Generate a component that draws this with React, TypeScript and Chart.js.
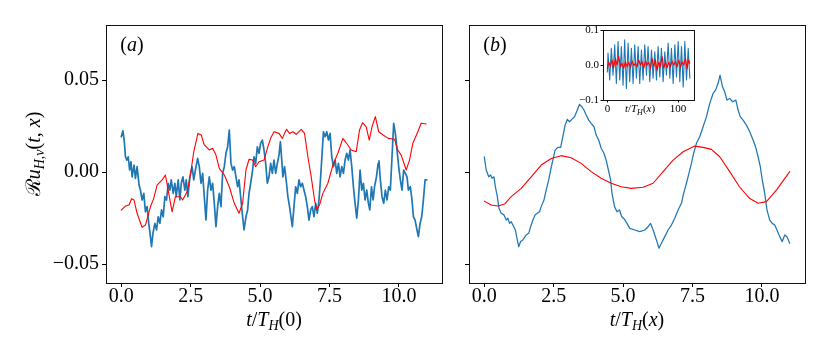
import React, { useEffect, useRef } from 'react';
import { Chart, registerables } from 'chart.js';
Chart.register(...registerables);

const FAMILY = "'Liberation Serif', 'Times New Roman', serif";
const BLUE = '#1f77b4';
const RED = '#ff0000';

// ---------- data (t, value) ----------
const redA: [number, number][] = [
  [0, -0.0207], [0.15, -0.0185], [0.28, -0.0179], [0.37, -0.0145], [0.46, -0.0152], [0.57, -0.0224], [0.75, -0.0301], [0.87, -0.0288],
  [1.05, -0.0189], [1.17, -0.0143], [1.29, -0.0071], [1.47, -0.0043], [1.59, -0.0016], [1.71, -0.0116], [1.83, -0.0216], [1.95, -0.0134],
  [2.13, -0.0134], [2.21, -0.0152], [2.37, -0.0107], [2.49, -0.0016], [2.61, 0.011], [2.76, 0.021], [2.88, 0.0201], [2.99, 0.0147],
  [3.17, 0.012], [3.29, 0.0129], [3.41, 0.0092], [3.53, 0.002], [3.71, -0.0016], [3.89, -0.008], [4.07, -0.017], [4.24, -0.0224],
  [4.37, -0.017], [4.49, 0.0011], [4.6, 0.0069], [4.73, 0.0065], [4.84, 0.0029], [4.96, 0.0056], [5.14, 0.0065], [5.26, 0.0129],
  [5.38, 0.0183], [5.5, 0.0219], [5.68, 0.021], [5.8, 0.0183], [5.95, 0.0232], [6.06, 0.021], [6.18, 0.0219], [6.3, 0.0205],
  [6.48, 0.0232], [6.6, 0.021], [6.72, 0.0083], [6.84, -0.0026], [6.96, -0.0152], [7.04, -0.0203], [7.14, -0.0179], [7.26, -0.0116],
  [7.44, -0.0061], [7.62, 0.0038], [7.8, 0.0102], [7.98, 0.0183], [8.16, 0.0147], [8.28, 0.012], [8.46, 0.011], [8.58, 0.0228],
  [8.69, 0.0268], [8.82, 0.0246], [8.93, 0.0174], [9.03, 0.0246], [9.15, 0.0301], [9.27, 0.0219], [9.43, 0.0201], [9.61, 0.0183],
  [9.84, 0.0178], [9.96, 0.012], [10.08, 0.0092], [10.2, 0.0038], [10.26, 0.0011], [10.38, 0.0065], [10.5, 0.0156], [10.68, 0.0219],
  [10.8, 0.0265], [10.98, 0.0261],
];

const blueA: [number, number][] = [
  [0, 0.0192], [0.06, 0.0224], [0.11, 0.0165], [0.15, 0.0083], [0.2, 0.0065], [0.25, 0.0083], [0.3, 0.0011], [0.35, 0.0056],
  [0.39, -0.0026], [0.46, 0.0038], [0.51, -0.0034], [0.57, 0.0029], [0.64, -0.0071], [0.69, -0.0098], [0.75, -0.0152], [0.81, -0.0116],
  [0.87, -0.0216], [0.93, -0.0188], [0.99, -0.0279], [1.05, -0.0351], [1.09, -0.0406], [1.14, -0.0333], [1.21, -0.0279], [1.27, -0.0315],
  [1.33, -0.0243], [1.39, -0.0279], [1.45, -0.0206], [1.51, -0.0243], [1.57, -0.0134], [1.63, -0.0152], [1.69, -0.0061], [1.75, -0.0098],
  [1.8, -0.0043], [1.87, -0.0116], [1.93, -0.0061], [1.98, -0.0134], [2.05, -0.0043], [2.11, -0.0152], [2.16, -0.0061], [2.22, -0.0026],
  [2.29, -0.0098], [2.34, -0.0043], [2.4, -0.0134], [2.47, -0.0026], [2.55, 0.0029], [2.61, -0.0043], [2.67, 0.0011], [2.75, 0.0074],
  [2.81, 0.0029], [2.87, -0.0061], [2.93, -0.0007], [2.99, -0.0134], [3.05, -0.0261], [3.11, -0.0098], [3.17, -0.0026], [3.23, -0.0098],
  [3.29, -0.0061], [3.35, -0.017], [3.41, -0.0297], [3.47, -0.0188], [3.53, -0.0116], [3.59, -0.0188], [3.65, -0.0007], [3.71, 0.0029],
  [3.77, 0.0102], [3.83, 0.0137], [3.89, 0.0228], [3.95, 0.0047], [4.01, 0.0011], [4.07, 0.0029], [4.13, -0.0026], [4.19, -0.008],
  [4.24, -0.0043], [4.31, -0.0152], [4.37, -0.0243], [4.42, -0.0315], [4.49, -0.0243], [4.55, -0.0206], [4.6, -0.0116], [4.66, -0.0061],
  [4.73, 0.0011], [4.78, 0.0083], [4.84, 0.0047], [4.9, 0.0137], [4.96, 0.0102], [5.02, 0.0156], [5.08, 0.0174], [5.14, 0.012],
  [5.2, 0.0047], [5.26, -0.0061], [5.32, -0.0026], [5.38, 0.0047], [5.44, -0.0007], [5.5, 0.0065], [5.56, -0.0007], [5.62, 0.0047],
  [5.68, 0.0092], [5.73, 0.0165], [5.77, 0.0083], [5.82, -0.0026], [5.88, 0.0029], [5.95, -0.0061], [6.0, -0.0134], [6.06, -0.0188],
  [6.16, -0.0297], [6.21, -0.0206], [6.28, -0.008], [6.34, -0.0116], [6.4, -0.0043], [6.46, -0.008], [6.52, -0.0061], [6.58, -0.0098],
  [6.64, -0.0134], [6.7, -0.0188], [6.76, -0.0261], [6.82, -0.0206], [6.88, -0.0188], [6.94, -0.0243], [7.0, -0.017], [7.06, -0.0224],
  [7.12, -0.0152], [7.18, -0.0026], [7.24, 0.012], [7.28, 0.0219], [7.34, 0.0192], [7.4, 0.0219], [7.46, 0.0174], [7.52, 0.021],
  [7.58, 0.0083], [7.64, 0.0029], [7.7, 0.0065], [7.76, -0.0007], [7.82, 0.0047], [7.88, -0.0026], [7.94, 0.0029], [8.0, -0.0007],
  [8.06, 0.0065], [8.12, 0.0102], [8.18, 0.0065], [8.24, 0.012], [8.3, 0.0029], [8.36, -0.008], [8.42, -0.017], [8.48, -0.0251],
  [8.54, -0.0152], [8.6, 0.0011], [8.66, -0.0098], [8.72, -0.0061], [8.78, -0.0152], [8.84, -0.0098], [8.9, -0.017], [8.95, -0.0206],
  [9.01, -0.008], [9.07, -0.0152], [9.12, -0.008], [9.19, -0.0026], [9.25, 0.0047], [9.28, 0.0061], [9.33, -0.0043], [9.39, -0.0134],
  [9.45, -0.017], [9.51, -0.0098], [9.57, -0.0152], [9.63, -0.008], [9.69, -0.0098], [9.75, 0.0083], [9.81, 0.0265], [9.87, 0.021],
  [9.93, 0.012], [9.99, 0.0029], [10.05, -0.0043], [10.11, -0.0098], [10.17, 0.0011], [10.23, -0.0007], [10.29, -0.0026], [10.34, -0.0098],
  [10.41, -0.008], [10.47, -0.0152], [10.52, -0.0243], [10.58, -0.0261], [10.65, -0.0315], [10.7, -0.0351], [10.76, -0.0279], [10.82, -0.0243],
  [10.88, -0.0152], [10.94, -0.0043], [11.0, -0.0043],
];

const redB: [number, number][] = [
  [0, -0.0158], [0.25, -0.0179], [0.49, -0.0185], [0.73, -0.0174], [0.97, -0.0134], [1.33, -0.0089], [1.69, -0.0026], [2.05, 0.0038],
  [2.41, 0.0074], [2.77, 0.0089], [3.13, 0.0078], [3.49, 0.0047], [3.85, 0.0002], [4.21, -0.0034], [4.57, -0.0061], [4.93, -0.008],
  [5.29, -0.0089], [5.72, -0.0083], [6.08, -0.0061], [6.44, 0.0002], [6.8, 0.0065], [7.16, 0.011], [7.58, 0.0141], [7.88, 0.0134],
  [8.18, 0.0123], [8.48, 0.0083], [8.84, 0.0002], [9.19, -0.008], [9.55, -0.0143], [9.86, -0.017], [10.16, -0.0161], [10.52, -0.0098],
  [11.0, 0.0002],
];

const blueB: [number, number][] = [
  [0, 0.0083], [0.07, 0.0011], [0.16, -0.0026], [0.23, -0.0016], [0.28, -0.0034], [0.35, -0.0026], [0.4, -0.008], [0.47, -0.0134],
  [0.53, -0.0197], [0.61, -0.0224], [0.71, -0.0233], [0.79, -0.0261], [0.85, -0.0251], [0.91, -0.0279], [0.97, -0.027], [1.03, -0.0288],
  [1.12, -0.0315], [1.19, -0.0369], [1.24, -0.0406], [1.31, -0.0378], [1.39, -0.0369], [1.51, -0.0342], [1.6, -0.0333], [1.67, -0.0297],
  [1.75, -0.0261], [1.83, -0.0233], [1.91, -0.0224], [1.99, -0.0216], [2.05, -0.0188], [2.15, -0.0152], [2.23, -0.0098], [2.32, -0.0043],
  [2.39, 0.0011], [2.47, 0.0065], [2.55, 0.0119], [2.65, 0.0134], [2.75, 0.0134], [2.83, 0.0192], [2.91, 0.0255], [2.99, 0.0286],
  [3.07, 0.0273], [3.15, 0.0286], [3.25, 0.03], [3.35, 0.0337], [3.43, 0.0368], [3.51, 0.0355], [3.59, 0.0337], [3.67, 0.031],
  [3.76, 0.0282], [3.85, 0.0264], [3.95, 0.0246], [4.03, 0.0201], [4.12, 0.0174], [4.21, 0.0129], [4.31, 0.0102], [4.39, 0.0065],
  [4.47, 0.0011], [4.55, -0.0043], [4.6, -0.0116], [4.69, -0.0188], [4.78, -0.0216], [4.87, -0.0206], [4.95, -0.0243], [5.05, -0.0257],
  [5.14, -0.0279], [5.24, -0.0306], [5.42, -0.0315], [5.6, -0.0324], [5.78, -0.0315], [5.9, -0.0297], [5.99, -0.0279], [6.08, -0.0315],
  [6.2, -0.0369], [6.29, -0.0414], [6.38, -0.0387], [6.5, -0.0351], [6.62, -0.0315], [6.74, -0.0288], [6.86, -0.0251], [6.98, -0.0206],
  [7.1, -0.017], [7.18, -0.0116], [7.28, -0.0061], [7.37, -0.0007], [7.46, 0.0047], [7.54, 0.0102], [7.64, 0.0156], [7.76, 0.0192],
  [7.88, 0.0246], [8.0, 0.03], [8.12, 0.0373], [8.24, 0.0427], [8.33, 0.0445], [8.42, 0.0482], [8.49, 0.0527], [8.58, 0.0463],
  [8.66, 0.0436], [8.74, 0.0391], [8.84, 0.04], [8.94, 0.0382], [9.06, 0.0391], [9.14, 0.0337], [9.22, 0.03], [9.32, 0.0282],
  [9.44, 0.0255], [9.56, 0.0219], [9.68, 0.0174], [9.77, 0.0137], [9.86, 0.0083], [9.94, 0.0029], [10.01, -0.0043], [10.1, -0.0116],
  [10.18, -0.0206], [10.28, -0.0261], [10.37, -0.0279], [10.46, -0.0288], [10.54, -0.0315], [10.64, -0.0351], [10.73, -0.0378], [10.82, -0.0342],
  [10.9, -0.0351], [11.0, -0.0387],
];

const blueInset: [number, number][] = [
  [0, -0.02], [0.9, 0.034], [3.3, -0.043], [5.6, 0.048], [8.0, -0.029], [10.4, 0.058], [12.7, -0.053], [15.1, 0.067],
  [17.5, -0.043], [19.8, 0.053], [22.2, -0.058], [24.5, 0.072], [26.9, -0.067], [29.3, 0.063], [31.6, -0.048], [34.0, 0.048],
  [36.4, -0.053], [38.7, 0.058], [41.1, -0.038], [43.5, 0.053], [45.8, -0.053], [48.2, 0.043], [50.5, -0.043], [52.9, 0.058],
  [55.3, -0.029], [57.6, 0.053], [60.0, -0.048], [62.4, 0.043], [64.7, -0.038], [67.1, 0.038], [69.5, -0.043], [71.8, 0.053],
  [74.2, -0.034], [76.5, 0.048], [78.9, -0.048], [81.3, 0.038], [83.6, -0.029], [86.0, 0.063], [88.4, -0.038], [90.7, 0.048],
  [93.1, -0.053], [95.5, 0.058], [97.8, -0.034], [100.2, 0.067], [102.5, -0.048], [104.9, 0.053], [107.3, -0.063], [109.6, 0.067],
  [112.0, -0.043], [114.4, 0.048], [116.7, -0.038],
];

const redInset: [number, number][] = [
  [0, -0.0096], [1.8, 0.0096], [4.2, -0.0048], [6.6, 0.0144], [8.9, -0.0077], [11.3, 0.0192], [13.6, 0], [16.0, 0.024],
  [18.4, -0.0048], [20.7, 0.0048], [23.1, -0.0096], [25.4, 0.0096], [27.8, -0.0048], [30.2, 0.0077], [32.5, -0.0077], [34.9, 0.0115],
  [37.3, -0.0019], [39.6, 0.0048], [42.0, -0.0048], [44.3, 0.0144], [46.7, 0], [49.0, 0.0096], [51.4, -0.0096], [53.8, 0.0115],
  [56.1, 0], [58.5, 0.0077], [60.9, -0.0096], [63.2, 0.0192], [65.6, -0.0048], [67.9, 0.0144], [70.3, -0.0144], [72.7, 0.0077],
  [75.0, -0.0048], [77.4, 0.024], [79.7, -0.0096], [82.1, 0.0096], [84.5, -0.0077], [86.8, 0.0077], [89.2, -0.0048], [91.5, 0.0115],
  [93.9, 0], [96.2, 0.0096], [98.6, -0.0048], [101.0, 0.0144], [103.3, -0.0077], [105.7, 0.0096], [108.0, 0], [110.4, 0.0192],
  [112.8, -0.0096], [115.1, 0.0144], [116.5, 0.0048],
];

// ---------- ticks ----------
const xTicks = [0, 2.5, 5, 7.5, 10];
const xTickLabels = ['0.0', '2.5', '5.0', '7.5', '10.0'];
const yTicks = [-0.05, 0, 0.05];
const yTickLabels = ['\u22120.05', '0.00', '0.05'];
const insetXTicks = [0, 100];
const insetXTickLabels = ['0', '100'];
const insetYTicks = [-0.1, 0, 0.1];
const insetYTickLabels = ['\u22120.1', '0.0', '0.1'];

const X_RANGE = [-0.55, 11.55];
const Y_RANGE = [-0.0603, 0.0799];
const INSET_X_RANGE = [-6.2, 122.6];
const INSET_Y_RANGE = [-0.1, 0.1];

type Seg = { t: string; it?: boolean; sub?: boolean };

function drawRich(ctx: CanvasRenderingContext2D, segs: Seg[], x: number, y: number, size: number, sub: number, drop: number) {
  const font = (s: Seg) => `${s.it ? 'italic ' : ''}${s.sub ? sub : size}px ${FAMILY}`;
  let w = 0;
  const ws = segs.map((s) => {
    ctx.font = font(s);
    const m = ctx.measureText(s.t).width;
    w += m;
    return m;
  });
  let cx = x - w / 2;
  ctx.textAlign = 'left';
  ctx.textBaseline = 'alphabetic';
  ctx.fillStyle = '#000';
  segs.forEach((s, i) => {
    ctx.font = font(s);
    ctx.fillText(s.t, cx, y + (s.sub ? drop : 0));
    cx += ws[i];
  });
}

function linScale(range: number[], ticks: number[], labels: string[], size: number, tickLen: number, pad: number, fit: (s: any) => void, show = true) {
  return {
    type: 'linear',
    min: range[0],
    max: range[1],
    afterBuildTicks: (s: any) => {
      s.ticks = ticks.map((v) => ({ value: v }));
    },
    afterFit: fit,
    ticks: {
      display: show,
      autoSkip: false,
      maxRotation: 0,
      padding: pad,
      color: '#000',
      font: { family: FAMILY, size, lineHeight: 1 },
      callback: (_v: any, i: number) => labels[i],
    },
    grid: { drawOnChartArea: false, drawTicks: true, tickLength: tickLen, color: '#000', lineWidth: 1 },
    border: { display: false },
  };
}

function fillArea(ctx: CanvasRenderingContext2D, a: any) {
  ctx.save();
  ctx.fillStyle = '#fff';
  ctx.fillRect(a.left, a.top, a.right - a.left, a.bottom - a.top);
  ctx.restore();
}

function strokeFrame(ctx: CanvasRenderingContext2D, a: any, lw: number) {
  ctx.save();
  ctx.strokeStyle = '#111';
  ctx.lineWidth = lw;
  ctx.strokeRect(a.left + 0.5, a.top + 0.5, a.right - a.left, a.bottom - a.top);
  ctx.restore();
}

function ds(data: [number, number][], color: string, width: number) {
  return {
    data: data.map(([x, y]) => ({ x, y })),
    borderColor: color,
    backgroundColor: color,
    borderWidth: width,
    pointRadius: 0,
    tension: 0,
    borderJoinStyle: 'round',
    borderCapStyle: 'round',
    fill: false,
  };
}

function baseOptions(padding: any, scales: any) {
  return {
    animation: false,
    responsive: false,
    events: [],
    layout: { padding },
    plugins: { legend: { display: false }, tooltip: { enabled: false }, title: { display: false } },
    scales,
  };
}

const configA = () => ({
  type: 'line',
  data: { datasets: [ds(redA, RED, 1.1), ds(blueA, BLUE, 1.7)] },
  options: baseOptions(
    { left: 0, top: 25, right: 8, bottom: 0 },
    {
      x: linScale(X_RANGE, xTicks, xTickLabels, 20, 4, 0, (s: any) => { s.height = 73; }),
      y: linScale(Y_RANGE, yTicks, yTickLabels, 20, 4, 3, (s: any) => { s.width = 106; }),
    }
  ),
  plugins: [
    {
      id: 'decorA',
      afterDraw: (chart: any) => {
        const ctx = chart.ctx as CanvasRenderingContext2D;
        const a = chart.chartArea;
        strokeFrame(ctx, a, 1);
        drawRich(ctx, [{ t: '(' }, { t: 'a', it: true }, { t: ')' }], 132, 51, 20, 14, 4);
        drawRich(ctx, [{ t: 't', it: true }, { t: '/' }, { t: 'T', it: true }, { t: 'H', it: true, sub: true }, { t: '(0)' }], (a.left + a.right) / 2, 326, 20, 14, 4);
        ctx.save();
        ctx.translate(40, (a.top + a.bottom) / 2);
        ctx.rotate(-Math.PI / 2);
        drawRich(
          ctx,
          [{ t: '\u211B' }, { t: 'u', it: true }, { t: 'H,\u03BD', it: true, sub: true }, { t: '(' }, { t: 't', it: true }, { t: ', ' }, { t: 'x', it: true }, { t: ')' }],
          0, 0, 20, 14, 4
        );
        ctx.restore();
      },
    },
  ],
});

const configB = () => ({
  type: 'line',
  data: { datasets: [ds(redB, RED, 1.1), ds(blueB, BLUE, 1.25)] },
  options: baseOptions(
    { left: 0, top: 25, right: 25, bottom: 0 },
    {
      x: linScale(X_RANGE, xTicks, xTickLabels, 20, 4, 0, (s: any) => { s.height = 73; }),
      y: linScale(Y_RANGE, yTicks, ['', '', ''], 20, 4, 0, (s: any) => { s.width = 19; }),
    }
  ),
  plugins: [
    {
      id: 'decorB',
      afterDraw: (chart: any) => {
        const ctx = chart.ctx as CanvasRenderingContext2D;
        const a = chart.chartArea;
        strokeFrame(ctx, a, 1);
        drawRich(ctx, [{ t: '(' }, { t: 'b', it: true }, { t: ')' }], 45, 51, 20, 14, 4);
        drawRich(ctx, [{ t: 't', it: true }, { t: '/' }, { t: 'T', it: true }, { t: 'H', it: true, sub: true }, { t: '(' }, { t: 'x', it: true }, { t: ')' }], (a.left + a.right) / 2, 326, 20, 14, 4);
      },
    },
  ],
});

const configInset = () => ({
  type: 'line',
  data: { datasets: [ds(redInset, RED, 1.1), ds(blueInset, BLUE, 1.1)] },
  options: baseOptions(
    { left: 0, top: 10, right: 6, bottom: 0 },
    {
      x: linScale(INSET_X_RANGE, insetXTicks, insetXTickLabels, 11, 2.5, 1.5, (s: any) => { s.height = 20; }),
      y: linScale(INSET_Y_RANGE, insetYTicks, insetYTickLabels, 11, 2.5, 1.5, (s: any) => { s.width = 43; }),
    }
  ),
  plugins: [
    {
      id: 'decorInset',
      beforeDatasetsDraw: (chart: any) => {
        fillArea(chart.ctx, chart.chartArea);
      },
      afterDraw: (chart: any) => {
        const ctx = chart.ctx as CanvasRenderingContext2D;
        const a = chart.chartArea;
        strokeFrame(ctx, a, 1);
        drawRich(ctx, [{ t: 't', it: true }, { t: '/' }, { t: 'T', it: true }, { t: 'H', it: true, sub: true }, { t: '(' }, { t: 'x', it: true }, { t: ')' }], 80, 92, 11, 8, 2.5);
      },
    },
  ],
});

function ChartCanvas(props: { make: () => any; left: number; top: number; width: number; height: number; z?: number }) {
  const ref = useRef<HTMLCanvasElement | null>(null);
  useEffect(() => {
    if (!ref.current) return;
    const chart = new Chart(ref.current, props.make());
    return () => chart.destroy();
  }, []);
  return (
    <canvas
      ref={ref}
      width={props.width}
      height={props.height}
      style={{ position: 'absolute', left: props.left, top: props.top, width: props.width, height: props.height, zIndex: props.z ?? 0 }}
    />
  );
}

export default function App() {
  return (
    <div style={{ position: 'absolute', left: 0, top: 0, width: 830, height: 356, background: '#fff', overflow: 'hidden' }}>
      <ChartCanvas make={configA} left={0} top={0} width={450} height={356} z={1} />
      <ChartCanvas make={configB} left={450} top={0} width={380} height={356} z={1} />
      <ChartCanvas make={configInset} left={560} top={20} width={140} height={100} z={2} />
    </div>
  );
}
